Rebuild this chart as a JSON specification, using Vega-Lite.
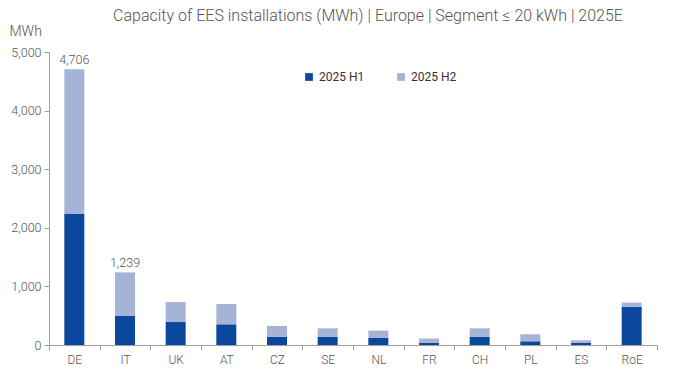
{
  "$schema": "https://vega.github.io/schema/vega-lite/v6.json",
  "width": 608,
  "height": 293,
  "autosize": "none",
  "padding": {"left": 49, "top": 52, "right": 17, "bottom": 33},
  "background": "white",
  "config": {
    "font": "Roboto",
    "view": {"stroke": null},
    "axis": {"labelColor": "#555555", "titleColor": "#555555", "domainColor": "#a0a0a0", "tickColor": "#a0a0a0", "labelFont": "Roboto", "labelFontWeight": 300}
  },
  "title": {
    "text": "Capacity of EES installations (MWh) | Europe | Segment ≤ 20 kWh | 2025E",
    "fontSize": 16,
    "fontWeight": 300,
    "color": "#555555",
    "anchor": "middle",
    "dx": 15,
    "offset": 0
  },
  "datasets": {
    "bars": [
      {"country": "DE", "period": "2025 H1", "value": 2235},
      {"country": "DE", "period": "2025 H2", "value": 2471},
      {"country": "IT", "period": "2025 H1", "value": 495},
      {"country": "IT", "period": "2025 H2", "value": 744},
      {"country": "UK", "period": "2025 H1", "value": 392},
      {"country": "UK", "period": "2025 H2", "value": 342},
      {"country": "AT", "period": "2025 H1", "value": 353},
      {"country": "AT", "period": "2025 H2", "value": 347},
      {"country": "CZ", "period": "2025 H1", "value": 142},
      {"country": "CZ", "period": "2025 H2", "value": 182},
      {"country": "SE", "period": "2025 H1", "value": 143},
      {"country": "SE", "period": "2025 H2", "value": 142},
      {"country": "NL", "period": "2025 H1", "value": 120},
      {"country": "NL", "period": "2025 H2", "value": 126},
      {"country": "FR", "period": "2025 H1", "value": 35},
      {"country": "FR", "period": "2025 H2", "value": 74},
      {"country": "CH", "period": "2025 H1", "value": 143},
      {"country": "CH", "period": "2025 H2", "value": 142},
      {"country": "PL", "period": "2025 H1", "value": 63},
      {"country": "PL", "period": "2025 H2", "value": 120},
      {"country": "ES", "period": "2025 H1", "value": 35},
      {"country": "ES", "period": "2025 H2", "value": 45},
      {"country": "RoE", "period": "2025 H1", "value": 649},
      {"country": "RoE", "period": "2025 H2", "value": 75}
    ],
    "totals": [
      {"country": "DE", "total": 4706},
      {"country": "IT", "total": 1239}
    ]
  },
  "layer": [
    {
      "data": {"name": "bars"},
      "mark": {"type": "bar", "width": 20},
      "encoding": {
        "x": {
          "field": "country", "type": "nominal",
          "sort": ["DE","IT","UK","AT","CZ","SE","NL","FR","CH","PL","ES","RoE"],
          "scale": {"paddingInner": 0, "paddingOuter": 0},
          "axis": {"title": null, "labelAngle": 0, "tickBand": "extent", "tickSize": 5, "labelFontSize": 12, "labelPadding": 4}
        },
        "y": {
          "field": "value", "type": "quantitative", "stack": "zero",
          "scale": {"domain": [0, 5000], "nice": false},
          "axis": {"values": [0,1000,2000,3000,4000,5000], "format": ",.0f", "grid": false, "tickSize": 5, "labelFontSize": 12.5, "labelPadding": 3,
                   "title": "MWh", "titleAngle": 0, "titleAlign": "left", "titleBaseline": "alphabetic", "titleX": -40, "titleY": -17, "titleFontSize": 14, "titleFontWeight": 300}
        },
        "color": {
          "field": "period", "type": "nominal",
          "scale": {"domain": ["2025 H1", "2025 H2"], "range": ["#0a479d", "#a5b4d6"]},
          "legend": {"title": null, "orient": "none", "legendX": 254, "legendY": 19, "direction": "horizontal", "symbolType": "square", "symbolSize": 60, "symbolStrokeWidth": 0, "labelFontSize": 12, "labelColor": "#333333", "labelFontWeight": 400, "columnPadding": 30, "labelOffset": 4}
        },
        "order": {"field": "period", "sort": "ascending"}
      }
    },
    {
      "data": {"name": "totals"},
      "mark": {"type": "text", "dy": -9, "fontSize": 12.5, "color": "#555555", "fontWeight": 300},
      "encoding": {
        "x": {"field": "country", "type": "nominal", "sort": ["DE","IT","UK","AT","CZ","SE","NL","FR","CH","PL","ES","RoE"]},
        "y": {"field": "total", "type": "quantitative"},
        "text": {"field": "total", "type": "quantitative", "format": ",.0f"}
      }
    }
  ]
}
